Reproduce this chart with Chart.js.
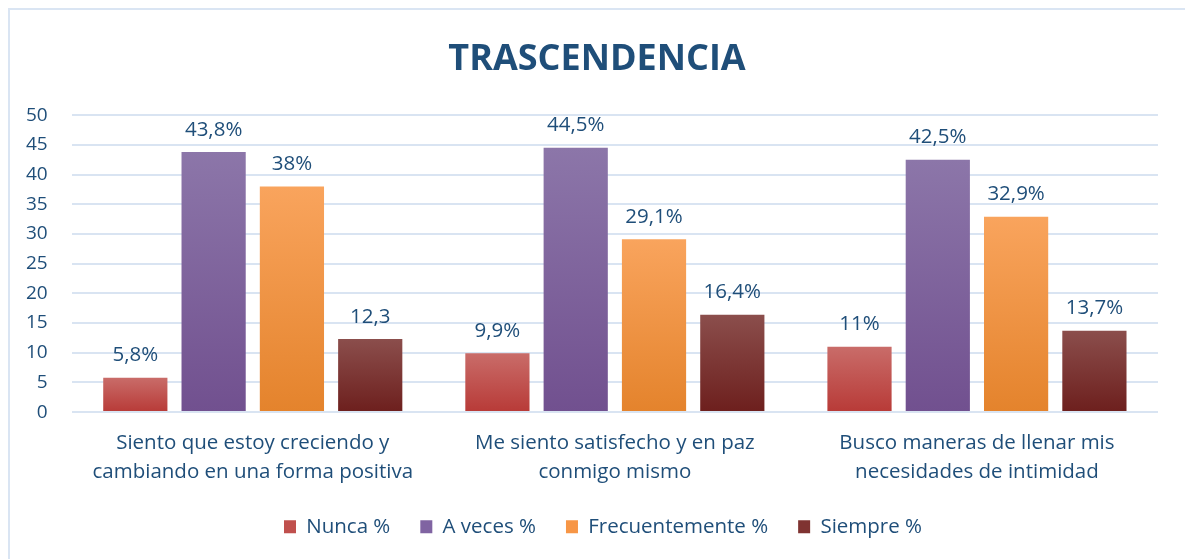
<!DOCTYPE html>
<html>
<head>
<meta charset="utf-8">
<script src="https://cdn.jsdelivr.net/npm/chart.js@4.4.1/dist/chart.umd.min.js"></script>
<style>
  html, body { margin: 0; padding: 0; background: #fff; overflow: hidden; }
  #wrap { position: relative; width: 1185px; height: 559px; }
  #frame { position: absolute; left: 8px; top: 8px; width: 1190px; height: 570px; border: 2px solid #DAE5F3; box-sizing: border-box; }
  canvas { position: absolute; left: 0; top: 0; }
</style>
</head>
<body>
<div id="wrap">
  <div id="frame"></div>
  <canvas id="chart" width="1185" height="559"></canvas>
</div>
<script>
const categories = [
  ["Siento que estoy creciendo y", "cambiando en una forma positiva"],
  ["Me siento satisfecho y en paz", "conmigo mismo"],
  ["Busco maneras de llenar mis", "necesidades de intimidad"]
];
const nunca = [5.8, 9.9, 11];
const aVeces = [43.8, 44.5, 42.5];
const frecuentemente = [38, 29.1, 32.9];
const siempre = [12.3, 16.4, 13.7];

const nuncaLabels = ["5,8%", "9,9%", "11%"];
const aVecesLabels = ["43,8%", "44,5%", "42,5%"];
const frecuentementeLabels = ["38%", "29,1%", "32,9%"];
const siempreLabels = ["12,3", "16,4%", "13,7%"];

const yTicks = [0, 5, 10, 15, 20, 25, 30, 35, 40, 45, 50];

const textColor = "#1F4E79";
const fontFamily = "'Open Sans', Lato, sans-serif";

// top / bottom colours of each bar's vertical gradient
function barGradient(top, bottom) {
  return (ctx) => {
    const chart = ctx.chart;
    if (!chart.chartArea || ctx.type !== "data") return bottom;
    const y = chart.scales.y;
    const yTop = y.getPixelForValue(ctx.raw);
    const yBot = y.getPixelForValue(0);
    if (!isFinite(yTop) || yTop === yBot) return bottom;
    const g = chart.ctx.createLinearGradient(0, yTop, 0, yBot);
    g.addColorStop(0, top);
    g.addColorStop(1, bottom);
    return g;
  };
}

const series = [
  { label: "Nunca %", data: nunca, texts: nuncaLabels, top: "#C96C69", bottom: "#B83A37", solid: "#C0504D" },
  { label: "A veces %", data: aVeces, texts: aVecesLabels, top: "#8C76A9", bottom: "#71508F", solid: "#8064A2" },
  { label: "Frecuentemente %", data: frecuentemente, texts: frecuentementeLabels, top: "#F9A45D", bottom: "#E4832C", solid: "#F79646" },
  { label: "Siempre %", data: siempre, texts: siempreLabels, top: "#8B4E4C", bottom: "#6D1F1D", solid: "#7F3331" }
];

const valueLabels = {
  id: "valueLabels",
  afterDatasetsDraw(chart) {
    const ctx = chart.ctx;
    ctx.save();
    ctx.font = "20.5px " + fontFamily;
    ctx.fillStyle = textColor;
    ctx.textAlign = "center";
    ctx.textBaseline = "bottom";
    chart.data.datasets.forEach((ds, i) => {
      const meta = chart.getDatasetMeta(i);
      meta.data.forEach((bar, j) => {
        ctx.fillText(ds.texts[j], bar.x, bar.y - 12);
      });
    });
    ctx.restore();
  }
};

// the title and legend sit centred on the whole frame, not on the plot box
const recentre = {
  id: "recentre",
  afterLayout(chart) {
    if (chart.titleBlock) chart.titleBlock.left += 34;
    if (chart.legend) chart.legend.left += 46;
  }
};

new Chart(document.getElementById("chart"), {
  type: "bar",
  data: {
    labels: categories,
    datasets: series.map((s) => ({
      label: s.label,
      data: s.data,
      texts: s.texts,
      solid: s.solid,
      backgroundColor: barGradient(s.top, s.bottom),
      borderWidth: 0,
      categoryPercentage: 0.865,
      barPercentage: 0.82
    }))
  },
  options: {
    responsive: false,
    animation: false,
    layout: { padding: { left: 2, right: 27, top: 0, bottom: 12 } },
    scales: {
      y: {
        min: 0,
        max: 50,
        afterBuildTicks: (axis) => { axis.ticks = yTicks.map((v) => ({ value: v })); },
        ticks: { color: textColor, font: { family: fontFamily, size: 19 }, padding: 24 },
        grid: { color: "#D9E4F2", lineWidth: 2, drawTicks: false },
        border: { display: false }
      },
      x: {
        afterFit: (axis) => { axis.height -= 9; },
        ticks: { color: textColor, font: { family: fontFamily, size: 20.5, lineHeight: 1.4 }, padding: 9, maxRotation: 0 },
        grid: { display: false },
        border: { display: false }
      }
    },
    plugins: {
      title: {
        display: true,
        text: "TRASCENDENCIA",
        color: textColor,
        font: { family: fontFamily, size: 36, weight: "bold" },
        padding: { top: 38, bottom: 34 }
      },
      legend: {
        position: "bottom",
        labels: {
          color: textColor,
          font: { family: fontFamily, size: 20.5 },
          boxWidth: 12,
          boxHeight: 13,
          padding: 30,
          generateLabels: (chart) => chart.data.datasets.map((ds, i) => ({
            text: ds.label,
            fillStyle: ds.solid,
            strokeStyle: ds.solid,
            lineWidth: 0,
            fontColor: textColor,
            datasetIndex: i
          }))
        }
      },
      tooltip: { enabled: false }
    }
  },
  plugins: [valueLabels, recentre]
});
</script>
</body>
</html>
